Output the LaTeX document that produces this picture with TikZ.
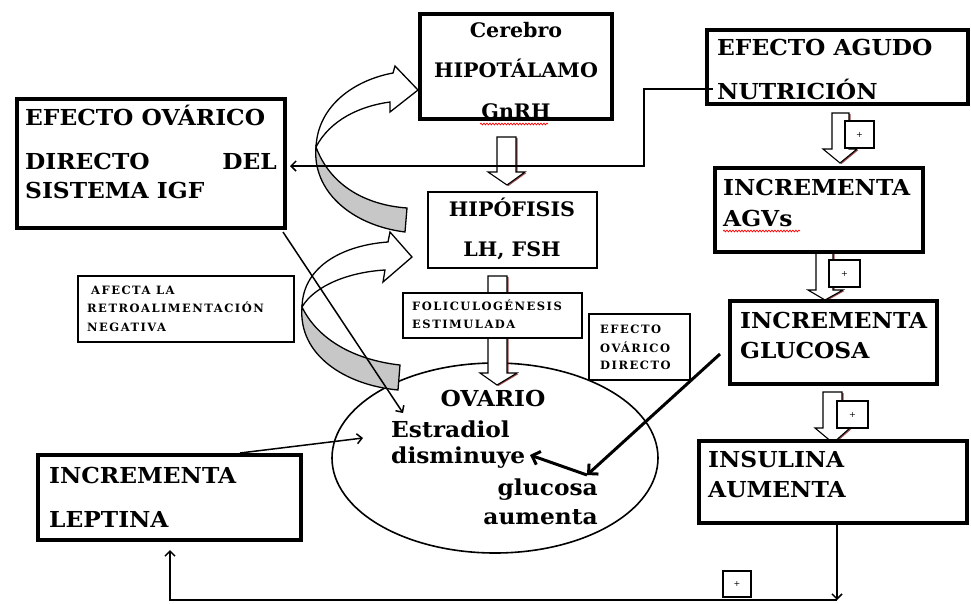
\documentclass[tikz,border=0pt]{standalone}
\usepackage{fontspec}
\setmainfont{DejaVu Serif}
\usetikzlibrary{shapes.geometric,arrows.meta,shadows,decorations.pathmorphing}
\begin{document}
\begin{tikzpicture}[x=1pt,y=-1pt,
  thickbox/.style={draw=black, line width=3.5pt, fill=white, rectangle, inner sep=0pt,
    drop shadow={shadow xshift=2pt, shadow yshift=-2pt, fill=black!30, opacity=0.6}},
  thinbox/.style={draw=black, line width=1.2pt, fill=white, rectangle, inner sep=0pt},
  plusbox/.style={draw=black, line width=1.2pt, fill=white, rectangle, inner sep=0pt,
    font=\fontsize{8}{8}\selectfont},
  big/.style={inner sep=0pt, font=\fontsize{22}{24}\selectfont\bfseries\addfontfeature{FakeStretch=1.06}},
  mid/.style={inner sep=0pt, font=\fontsize{20}{22}\selectfont\bfseries\addfontfeature{FakeStretch=1.03}},
  small/.style={inner sep=0pt, anchor=base west,
    font=\fontsize{11.5}{13}\selectfont\bfseries\addfontfeature{LetterSpace=13}},
  blockarrow/.style={draw=black, line width=1.1pt, fill=white,
    drop shadow={shadow xshift=1.5pt, shadow yshift=-1pt, fill=red!45!black, opacity=0.7}},
  curvewhite/.style={draw=black, line width=1.3pt, fill=white},
  curvegray/.style={draw=black, line width=1.3pt, fill=black!22},
  conn/.style={draw=black, line width=1.5pt},
  tip/.style={-{Straight Barb[length=5pt,width=10pt]}},
  thicktip/.style={line width=3pt, -{Straight Barb[length=7pt,width=14pt]}},
  squiggle/.style={draw=red, line width=0.7pt, decorate,
    decoration={snake, amplitude=0.9pt, segment length=3pt}}
]
\useasboundingbox (0,0) rectangle (971,603);
\fill[white] (0,0) rectangle (971,603);

% ovary ellipse
\node[draw=black, line width=1.6pt, ellipse, fill=white, minimum width=326pt, minimum height=190pt, inner sep=0pt] (ovario) at (495,458) {};

% block arrows
\draw[blockarrow] (497,137) -- (516,137) -- (516,172) -- (525,172) -- (507,185) -- (488,172) -- (497,172) -- cycle;
\draw[blockarrow] (488,276) -- (507,276) -- (507,373) -- (517,373) -- (497,385) -- (480,373) -- (488,373) -- cycle;
\draw[blockarrow] (832,113) -- (849,113) -- (849,149) -- (857,149) -- (840,163) -- (823,149) -- (832,149) -- cycle;
\draw[blockarrow] (816,252) -- (833,252) -- (833,290) -- (843,290) -- (825,300) -- (808,290) -- (816,290) -- cycle;
\draw[blockarrow] (823,392) -- (842,392) -- (842,428) -- (850,428) -- (833,443) -- (815,428) -- (823,428) -- cycle;

% boxes
\node[thickbox, minimum width=192pt, minimum height=105pt] (cerebro) at (516,66.5) {};
\node[thinbox, minimum width=169pt, minimum height=76pt] (hipofisis) at (512.5,230) {};
\node[thickbox, minimum width=268pt, minimum height=129pt] (efov) at (151,163.5) {};
\node[thinbox, minimum width=216pt, minimum height=66pt] (afecta) at (186,309) {};
\node[thickbox, minimum width=261pt, minimum height=74pt] (agudo) at (837.5,67) {};
\node[thickbox, minimum width=208pt, minimum height=84pt] (agvs) at (819,210) {};
\node[thickbox, minimum width=207pt, minimum height=83pt] (glucosa) at (833.5,342.5) {};
\node[thickbox, minimum width=268pt, minimum height=82pt] (insulina) at (833,482) {};
\node[thickbox, minimum width=263pt, minimum height=85pt] (leptina) at (169.5,497.5) {};
\node[thinbox, minimum width=179pt, minimum height=45pt] (folic) at (492.5,315.5) {};
\node[thinbox, minimum width=101pt, minimum height=66pt] (efdir) at (639.5,347) {};

% plus boxes
\node[plusbox, minimum width=29pt, minimum height=27pt] (p1) at (859.5,134.5) {+};
\node[plusbox, minimum width=31pt, minimum height=27pt] (p2) at (844.5,273.5) {+};
\node[plusbox, minimum width=31pt, minimum height=27pt] (p3) at (852.5,414.5) {+};
\node[plusbox, minimum width=28pt, minimum height=26pt] (p4) at (737,584) {+};

% curved arrows (upper)
\draw[curvegray] (316,147) .. controls (312,190) and (350,225) .. (405,232) -- (407,208) .. controls (365,205) and (330,185) .. (316,147) -- cycle;
\draw[curvewhite] (316,147) .. controls (318,105) and (355,80) .. (393,73) -- (395,66) -- (418,90) -- (390,112) -- (390,102) .. controls (360,106) and (330,120) .. (316,147) -- cycle;
% curved arrows (lower)
\draw[curvegray] (302,307) .. controls (298,355) and (345,385) .. (398,390) -- (400,365) .. controls (355,360) and (318,340) .. (302,307) -- cycle;
\draw[curvewhite] (302,307) .. controls (303,265) and (345,245) .. (388,242) -- (390,232) -- (412,257) -- (383,282) -- (385,270) .. controls (350,272) and (315,285) .. (302,307) -- cycle;

% connectors
\coordinate (h1) at (713,89);
\coordinate (h2) at (644,89);
\coordinate (h3) at (644,166);
\coordinate (h4) at (290,166);
\draw[conn, tip] (h1) -- (h2) -- (h3) -- (h4);

\coordinate (e1) at (283,232);
\coordinate (e2) at (403,413);
\draw[conn, tip] (e1) -- (e2);

\coordinate (l1) at (240,453);
\coordinate (l2) at (363,438);
\draw[conn, tip] (l1) -- (l2);

\coordinate (g1) at (720,354);
\coordinate (g2) at (587,475);
\coordinate (g3) at (530,455);
\draw[thicktip] (g1) -- (g2);
\draw[thicktip] (g2) -- (g3);

\coordinate (b1) at (837,525);
\coordinate (b2) at (837,600);
\coordinate (b3) at (170,600);
\coordinate (b4) at (170,550);
\draw[conn, tip] (b1) -- (b2);
\draw[conn, tip] (b2) -- (b3) -- (b4);

% texts
\node[mid, anchor=base] (tcer1) at (516,37) {Cerebro};
\node[mid, anchor=base] (tcer2) at (516,77) {HIPOTÁLAMO};
\node[mid, anchor=base] (tcer3) at (516,118) {GnRH};
\draw[squiggle] (480,124) -- (548,124);
\node[mid, anchor=base] (thip1) at (512,216) {HIPÓFISIS};
\node[mid, anchor=base] (thip2) at (512,256) {LH, FSH};

\node[big, anchor=base west] (tef1) at (25,125) {EFECTO OVÁRICO};
\node[big, anchor=base west] (tef2) at (25,169) {DIRECTO};
\node[big, anchor=base east] (tef3) at (277,169) {DEL};
\node[big, anchor=base west] (tef4) at (25,198) {SISTEMA IGF};

\node[small] (taf1) at (91,294) {AFECTA LA};
\node[small] (taf2) at (87,312) {RETROALIMENTACIÓN};
\node[small] (taf3) at (87,331) {NEGATIVA};

\node[small] (tfo1) at (412,310) {FOLICULOGÉNESIS};
\node[small] (tfo2) at (412,328) {ESTIMULADA};

\node[small] (tdi1) at (600,333) {EFECTO};
\node[small] (tdi2) at (600,352) {OVÁRICO};
\node[small] (tdi3) at (600,369) {DIRECTO};

\node[big, anchor=base west] (tag1) at (717,55) {EFECTO AGUDO};
\node[big, anchor=base west] (tag2) at (717,99) {NUTRICIÓN};

\node[big, anchor=base west] (tav1) at (723,195) {INCREMENTA};
\node[big, anchor=base west] (tav2) at (723,226) {AGVs};
\draw[squiggle] (723,231) -- (800,231);

\node[big, anchor=base west] (tgl1) at (740,328) {INCREMENTA};
\node[big, anchor=base west] (tgl2) at (740,358) {GLUCOSA};

\node[big, anchor=base west] (tin1) at (708,467) {INSULINA};
\node[big, anchor=base west] (tin2) at (708,497) {AUMENTA};

\node[big, anchor=base west] (tle1) at (49,483) {INCREMENTA};
\node[big, anchor=base west] (tle2) at (49,527) {LEPTINA};

\node[big, anchor=base] (tov1) at (493,406) {OVARIO};
\node[big, anchor=base west] (tov2) at (391,437) {Estradiol};
\node[big, anchor=base west] (tov3) at (391,463) {disminuye};
\node[big, anchor=base east] (tov4) at (598,495) {glucosa};
\node[big, anchor=base east] (tov5) at (598,524) {aumenta};
\end{tikzpicture}
\end{document}
